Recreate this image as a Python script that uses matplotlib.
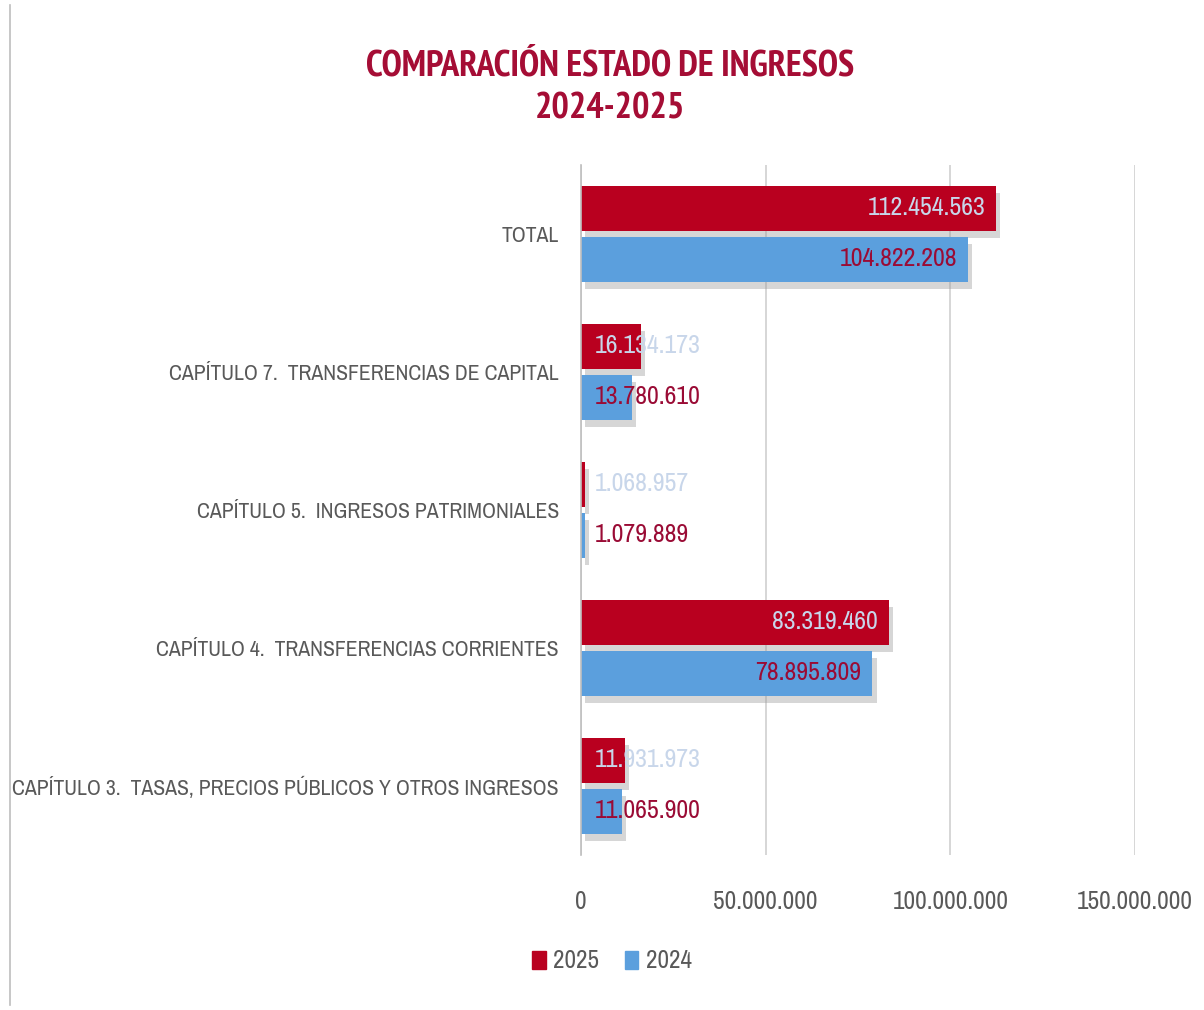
import matplotlib
matplotlib.use("Agg")
import matplotlib.pyplot as plt
import matplotlib.patheffects as pe
from matplotlib.lines import Line2D
from matplotlib.patches import Rectangle
from matplotlib import font_manager as fm

categories = ["TOTAL",
              "CAPÍTULO 7.  TRANSFERENCIAS DE CAPITAL",
              "CAPÍTULO 5.  INGRESOS PATRIMONIALES",
              "CAPÍTULO 4.  TRANSFERENCIAS CORRIENTES",
              "CAPÍTULO 3.  TASAS, PRECIOS PÚBLICOS Y OTROS INGRESOS"]
values_2025 = [112454563, 16134173, 1068957, 83319460, 11931973]
values_2024 = [104822208, 13780610, 1079889, 78895809, 11065900]
xticks = [0, 50000000, 100000000, 150000000]
xtick_labels = ["0", "50.000.000", "100.000.000", "150.000.000"]
series_names = ["2025", "2024"]
title_lines = ["COMPARACIÓN ESTADO DE INGRESOS", "2024-2025"]

RED = '#b9001f'
BLUE = '#5b9fdd'
LBL25 = '#c8d6ea'
LBL24 = '#9a0b35'
GRAY = '#595959'


def find_font(bold):
    cands = []
    for f in fm.fontManager.ttflist:
        fn = f.fname.lower()
        isbold = f.weight in ('bold', 700, 'semibold', 600) or 'bold' in fn
        if isbold != bold or 'italic' in fn or 'oblique' in fn:
            continue
        if 'narrow' in fn or 'condensed' in fn or f.stretch in ('condensed', 'semi-condensed', 'extra-condensed'):
            cands.append(f.fname)
    if cands:
        cands.sort(key=lambda p: (0 if 'narrow' in p.lower() else 1, p))
        return fm.FontProperties(fname=cands[0])
    return fm.FontProperties(family=['Roboto', 'Liberation Sans', 'DejaVu Sans'],
                             weight='bold' if bold else 'normal')


FP = find_font(False)
FPB = find_font(True)


def fmt(v):
    return f"{v:,}".replace(",", ".")


fig = plt.figure(figsize=(12.04, 10.10), dpi=100)
renderer = fig.canvas.get_renderer()


def fit(text, target_px, fp):
    t = fig.text(0, 0, text, fontproperties=fp, fontsize=20)
    w = t.get_window_extent(renderer).width
    t.remove()
    return 20 * target_px / w


cat_size = fit(categories[-1], 548, FP)
tick_size = fit("150.000.000", 116, FP)
val_size = fit("112.454.563", 118, FP)
title_size = fit(title_lines[0], 486, FPB)
leg_size = fit("2025", 46, FP)


def fpz(fp, size):
    p = fp.copy()
    p.set_size(size)
    return p


ax = fig.add_axes([581/1204, 1-855/1010, (1135-581)/1204, (855-165)/1010])

n = len(categories)
ypos = list(range(n))
h = 0.33
off = 0.185
shadow = [pe.SimplePatchShadow(offset=(3, -5), shadow_rgbFace='#9a9a9a', alpha=0.4), pe.Normal()]
bars25 = ax.barh([y - off for y in ypos], values_2025, height=h, color=RED, zorder=3, label=series_names[0])
bars24 = ax.barh([y + off for y in ypos], values_2024, height=h, color=BLUE, zorder=3, label=series_names[1])
for b in list(bars25) + list(bars24):
    b.set_path_effects(shadow)

for bars, vals, col in ((bars25, values_2025, LBL25), (bars24, values_2024, LBL24)):
    for b, v in zip(bars, vals):
        yc = b.get_y() + b.get_height() / 2
        if v > 40000000:
            ax.annotate(fmt(v), (v, yc), xytext=(-8, 1), textcoords='offset points',
                        ha='right', va='center', fontproperties=fpz(FP, val_size), color=col, zorder=5)
        else:
            ax.annotate(fmt(v), (0, yc), xytext=(10, 1), textcoords='offset points',
                        ha='left', va='center', fontproperties=fpz(FP, val_size), color=col, zorder=5)

ax.set_xlim(0, 150000000)
ax.set_ylim(n - 0.5, -0.5)
ax.set_xticks(xticks)
ax.set_xticklabels(xtick_labels, fontproperties=fpz(FP, tick_size))
ax.set_yticks(ypos)
ax.set_yticklabels(categories, fontproperties=fpz(FP, cat_size))
ax.tick_params(axis='x', length=0, pad=25, labelcolor=GRAY)
ax.tick_params(axis='y', length=0, pad=16, labelcolor=GRAY)
ax.grid(axis='x', color='#d0d0d0', linewidth=1.2, zorder=0)
for s in ['top', 'right', 'bottom']:
    ax.spines[s].set_visible(False)
ax.spines['left'].set_color('#bfbfbf')
ax.spines['left'].set_linewidth(1.2)
ax.spines['left'].set_zorder(4)

fig.text(610/1204, 1-66/1010, title_lines[0], ha='center', va='center',
         fontproperties=fpz(FPB, title_size), color='#a50d35')
fig.text(610/1204, 1-109/1010, title_lines[1], ha='center', va='center',
         fontproperties=fpz(FPB, title_size), color='#a50d35')

handles = [Rectangle((0, 0), 1, 1, color=RED), Rectangle((0, 0), 1, 1, color=BLUE)]
fig.legend(handles, series_names, loc='center', bbox_to_anchor=(612/1204, 1-961/1010),
           ncol=2, frameon=False, prop=fpz(FP, leg_size), labelcolor=GRAY, handlelength=0.55,
           handleheight=0.75, handletextpad=0.3, columnspacing=1.0)

fig.add_artist(Line2D([10/1204, 10/1204], [1-5/1010, 1-1005/1010], color='#bdbdbd', linewidth=1.2))

fig.savefig("out.png", dpi=100)
